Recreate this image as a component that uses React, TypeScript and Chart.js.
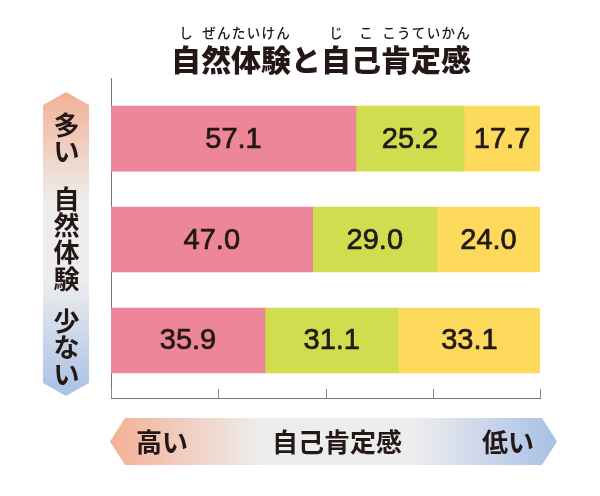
import React, { useEffect, useRef } from "react";
import { Chart, registerables } from "chart.js";

Chart.register(...registerables);

// ---- data ----
const rowLabels = ["多い", "中間", "少ない"];
const seriesNames = ["高い", "中間", "低い"];
const highValues = [57.1, 47.0, 35.9];
const midValues = [25.2, 29.0, 31.1];
const lowValues = [17.7, 24.0, 33.1];
const seriesColors = ["#EC8698", "#CFDD4E", "#FDDA5C"];
const xTickStep = 25;

const titleText = "自然体験と自己肯定感";
const titleRuby: [number, number, string][] = [
  [0, 1, "し"],
  [1, 4, "ぜんたいけん"],
  [5, 6, "じ"],
  [6, 7, "こ"],
  [7, 10, "こうていかん"],
];
const leftAxisGroups = ["多い", "自然体験", "少ない"];
const bottomAxisLabels = ["高い", "自己肯定感", "低い"];

const INK = "#231815";
const JP = '"Noto Sans CJK JP", "Noto Sans", sans-serif';
const NUM = '"Liberation Sans", Arial, sans-serif';
const SALMON = "#F3B095";
const GRAY = "#EDEDED";
const BLUE = "#A8C0E6";

const valueLabelPlugin = {
  id: "valueLabels",
  afterDatasetsDraw(chart: any) {
    const ctx = chart.ctx;
    ctx.save();
    ctx.fillStyle = INK;
    ctx.strokeStyle = INK;
    ctx.lineWidth = 0.7;
    ctx.lineJoin = "round";
    ctx.font = `29px ${NUM}`;
    ctx.textAlign = "center";
    ctx.textBaseline = "middle";
    chart.data.datasets.forEach((ds: any, di: number) => {
      const meta = chart.getDatasetMeta(di);
      meta.data.forEach((el: any, i: number) => {
        const v = ds.data[i].x as number;
        const cx = (el.x + el.base) / 2;
        const s = v.toFixed(1);
        ctx.fillText(s, cx, el.y + 1);
        ctx.strokeText(s, cx, el.y + 1);
      });
    });
    ctx.restore();
  },
};

const decorPlugin = {
  id: "decor",
  afterDraw(chart: any) {
    const ctx = chart.ctx as CanvasRenderingContext2D;
    const xs = chart.scales.x;
    const area = chart.chartArea;

    // tick marks pointing up from bottom axis
    ctx.save();
    ctx.strokeStyle = "#8a8a8a";
    ctx.lineWidth = 1;
    xs.ticks.forEach((t: any) => {
      const px = Math.round(xs.getPixelForValue(t.value)) + 0.5;
      ctx.beginPath();
      ctx.moveTo(px, area.bottom);
      ctx.lineTo(px, area.bottom - 9);
      ctx.stroke();
    });
    ctx.restore();

    // title
    ctx.save();
    ctx.fillStyle = INK;
    ctx.font = `900 30px ${JP}`;
    ctx.textAlign = "left";
    ctx.textBaseline = "middle";
    const titleW = ctx.measureText(titleText).width;
    const tx0 = 321 - titleW / 2;
    const charPitch = titleW / titleText.length;
    ctx.fillText(titleText, tx0, 60);
    ctx.font = `500 13.5px ${JP}`;
    ctx.textAlign = "center";
    const rubyPitch = 14.8;
    titleRuby.forEach(([s, e, kana]) => {
      const c = tx0 + ((s + e) / 2) * charPitch;
      const start = c - ((kana.length - 1) / 2) * rubyPitch;
      for (let k = 0; k < kana.length; k++) {
        ctx.fillText(kana[k], start + k * rubyPitch, 33);
      }
    });
    ctx.restore();

    // left vertical arrow
    ctx.save();
    const lx0 = 43, lx1 = 89, ltop = 92, lbot = 396, lh = 13;
    const lmid = (lx0 + lx1) / 2;
    const g1 = ctx.createLinearGradient(0, ltop, 0, lbot);
    g1.addColorStop(0, SALMON);
    g1.addColorStop(0.36, GRAY);
    g1.addColorStop(0.62, GRAY);
    g1.addColorStop(1, BLUE);
    ctx.fillStyle = g1;
    ctx.beginPath();
    ctx.moveTo(lmid, ltop);
    ctx.lineTo(lx1, ltop + lh);
    ctx.lineTo(lx1, lbot - lh);
    ctx.lineTo(lmid, lbot);
    ctx.lineTo(lx0, lbot - lh);
    ctx.lineTo(lx0, ltop + lh);
    ctx.closePath();
    ctx.fill();
    ctx.fillStyle = INK;
    ctx.font = `bold 26px ${JP}`;
    ctx.textAlign = "center";
    ctx.textBaseline = "middle";
    const groupStarts = [125, 199, 321];
    const vPitch = 26.6;
    leftAxisGroups.forEach((g, gi) => {
      for (let k = 0; k < g.length; k++) {
        ctx.fillText(g[k], lmid + 0.5, groupStarts[gi] + k * vPitch);
      }
    });
    ctx.restore();

    // bottom horizontal arrow
    ctx.save();
    const bx0 = 110, bx1 = 557, btop = 418, bbot = 465, bw = 15;
    const bmid = (btop + bbot) / 2;
    const g2 = ctx.createLinearGradient(bx0, 0, bx1, 0);
    g2.addColorStop(0, SALMON);
    g2.addColorStop(0.34, GRAY);
    g2.addColorStop(0.68, GRAY);
    g2.addColorStop(1, BLUE);
    ctx.fillStyle = g2;
    ctx.beginPath();
    ctx.moveTo(bx0, bmid);
    ctx.lineTo(bx0 + bw, btop);
    ctx.lineTo(bx1 - bw, btop);
    ctx.lineTo(bx1, bmid);
    ctx.lineTo(bx1 - bw, bbot);
    ctx.lineTo(bx0 + bw, bbot);
    ctx.closePath();
    ctx.fill();
    ctx.fillStyle = INK;
    ctx.font = `bold 26px ${JP}`;
    ctx.textAlign = "center";
    ctx.textBaseline = "middle";
    const bCenters = [162, 337, 508];
    bottomAxisLabels.forEach((t, i) => ctx.fillText(t, bCenters[i], bmid + 1));
    ctx.restore();
  },
};

export default function App() {
  const ref = useRef<HTMLCanvasElement | null>(null);
  useEffect(() => {
    if (!ref.current) return;
    const seriesValues = [highValues, midValues, lowValues];
    const chart = new Chart(ref.current, {
      type: "bar",
      data: {
        datasets: seriesValues.map((vals, si) => ({
          label: seriesNames[si],
          data: vals.map((v, i) => ({ x: v, y: i, row: rowLabels[i] })),
          backgroundColor: seriesColors[si],
          borderWidth: 0,
          barThickness: 65,
        })),
      },
      options: {
        indexAxis: "y",
        responsive: false,
        animation: false,
        layout: { padding: { left: 111, top: 78, right: 60, bottom: 98 } },
        plugins: {
          legend: { display: false },
          title: { display: false },
          tooltip: { enabled: false },
        },
        scales: {
          x: {
            type: "linear",
            min: 0,
            max: 100,
            stacked: true,
            offset: false,
            grid: { display: false, drawTicks: false, tickLength: 0, offset: false },
            border: { display: true, color: "#777777", width: 1 },
            ticks: { display: false, stepSize: xTickStep },
          },
          y: {
            type: "linear",
            min: -0.6,
            max: 2.57,
            reverse: true,
            stacked: true,
            offset: false,
            grid: { display: false, drawTicks: false, tickLength: 0, offset: false },
            border: { display: true, color: "#777777", width: 1 },
            ticks: { display: false },
          },
        },
      },
      plugins: [valueLabelPlugin, decorPlugin],
    } as any);
    return () => chart.destroy();
  }, []);
  return (
    <div style={{ position: "fixed", left: 0, top: 0, width: 600, height: 496, background: "#fff" }}>
      <canvas ref={ref} width={600} height={496} style={{ display: "block", width: 600, height: 496 }} />
    </div>
  );
}
